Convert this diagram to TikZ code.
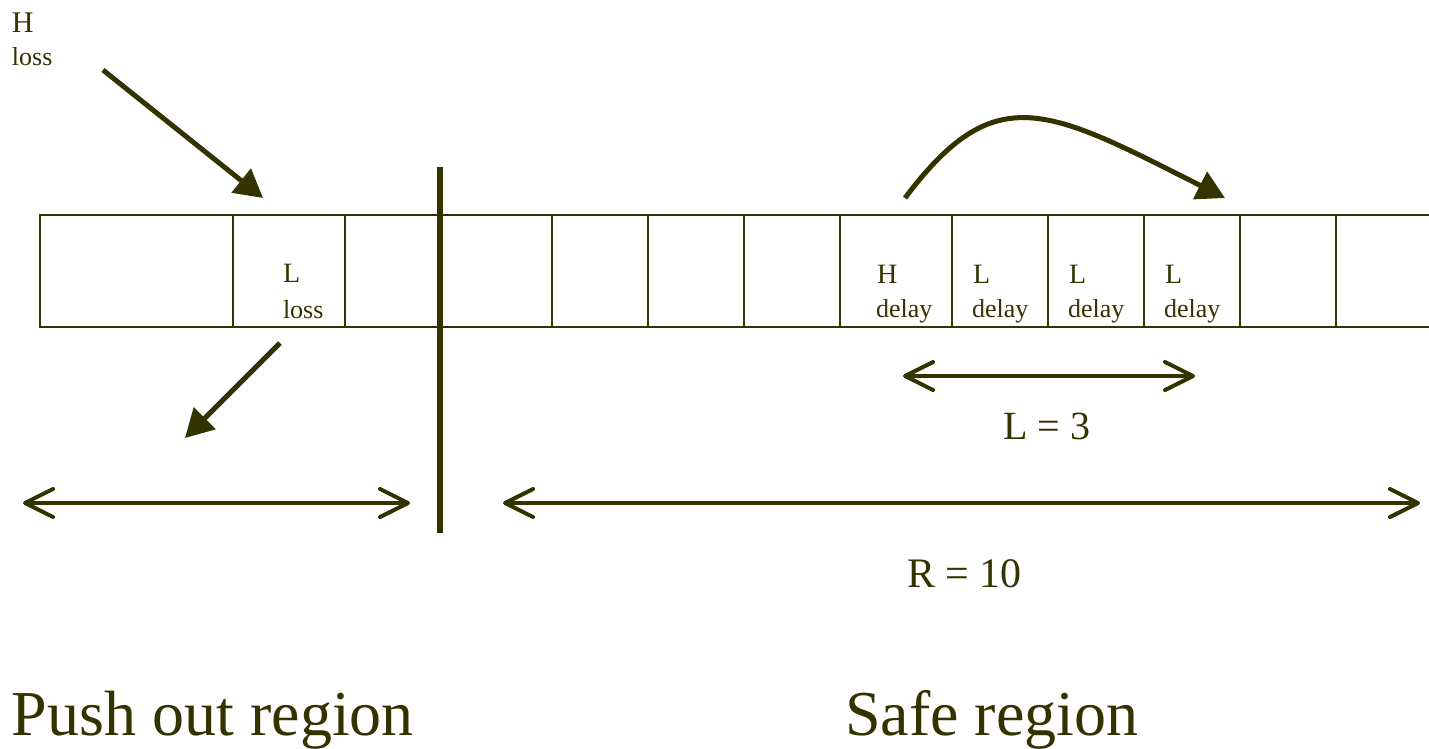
\documentclass[tikz,border=0pt]{standalone}
\usepackage{fontspec}
\setmainfont{Liberation Serif}
\usetikzlibrary{arrows.meta}
\definecolor{ink}{HTML}{333300}
\newcommand{\fsz}[1]{\fontsize{#1}{#1}\selectfont}
\tikzset{
  cell/.style={draw=ink, line width=2pt, minimum height=112pt, inner sep=0pt, outer sep=0pt},
  lbl/.style={anchor=base west, inner sep=0pt, outer sep=0pt, text=ink},
  fatarrow/.style={draw=ink, line width=5pt, -{Triangle[length=28pt,width=30pt]}},
  span/.style={draw=ink, line width=4pt,
    {Straight Barb[length=28pt,width=28pt,round]}-{Straight Barb[length=28pt,width=28pt,round]}},
  divider/.style={draw=ink, line width=6pt}
}
\begin{document}
\begin{tikzpicture}[x=1pt, y=-1pt]
\useasboundingbox (0,0) rectangle (1429,748);

% buffer row
\foreach \a/\b [count=\i] in {40/233, 233/345, 345/440, 440/552, 552/648, 648/744,
    744/840, 840/952, 952/1048, 1048/1144, 1144/1240, 1240/1336, 1336/1440}
  \node[cell, minimum width={(\b-\a)*1pt}] (c\i) at ({(\a+\b)/2}, 271) {};

% boundary between the two regions
\coordinate (divtop) at (440,167);
\coordinate (divbot) at (440,533);
\draw[divider] (divtop) -- (divbot);

% cell contents
\node[lbl] (hl) at (12,32) {\fsz{30}H};
\node[lbl] (hlloss) at (12,65) {\fsz{26}loss};
\node[lbl] (ll) at (283,282) {\fsz{28}L};
\node[lbl] (llloss) at (283,318) {\fsz{26}loss};
\node[lbl] (hd) at (877,283) {\fsz{28}H};
\node[lbl] (hddelay) at (876,317) {\fsz{26}delay};
\foreach \x [count=\i] in {973, 1069, 1165} {
  \node[lbl] (ld\i) at (\x,283) {\fsz{28}L};
  \node[lbl] (ld\i delay) at (\x-1,317) {\fsz{26}delay};
}

% arrivals and departures
\coordinate (hsrc) at (103,70);
\coordinate (htip) at (263,198);
\draw[fatarrow] (hsrc) -- (htip);

\coordinate (lsrc) at (280,343);
\coordinate (ltip) at (185,438);
\draw[fatarrow] (lsrc) -- (ltip);

\coordinate (jsrc) at (905,198);
\coordinate (jtip) at (1225,198);
\draw[fatarrow] (jsrc) .. controls (995,78) and (1047,108) .. (jtip);

% spans
\coordinate (pl) at (23,503);
\coordinate (pr) at (410,503);
\draw[span] (pl) -- (pr);

\coordinate (sl) at (503,503);
\coordinate (sr) at (1420,503);
\draw[span] (sl) -- (sr);

\coordinate (dl) at (903,376);
\coordinate (dr) at (1195,376);
\draw[span] (dl) -- (dr);

\node[lbl] (lval) at (1003,439) {\fsz{40}L = 3};
\node[lbl] (rval) at (907,587) {\fsz{42}R = 10};

% region names
\node[lbl] (push) at (12,735) {\fsz{64}Push out region};
\node[lbl] (safe) at (845,735) {\fsz{64}Safe region};
\end{tikzpicture}
\end{document}
